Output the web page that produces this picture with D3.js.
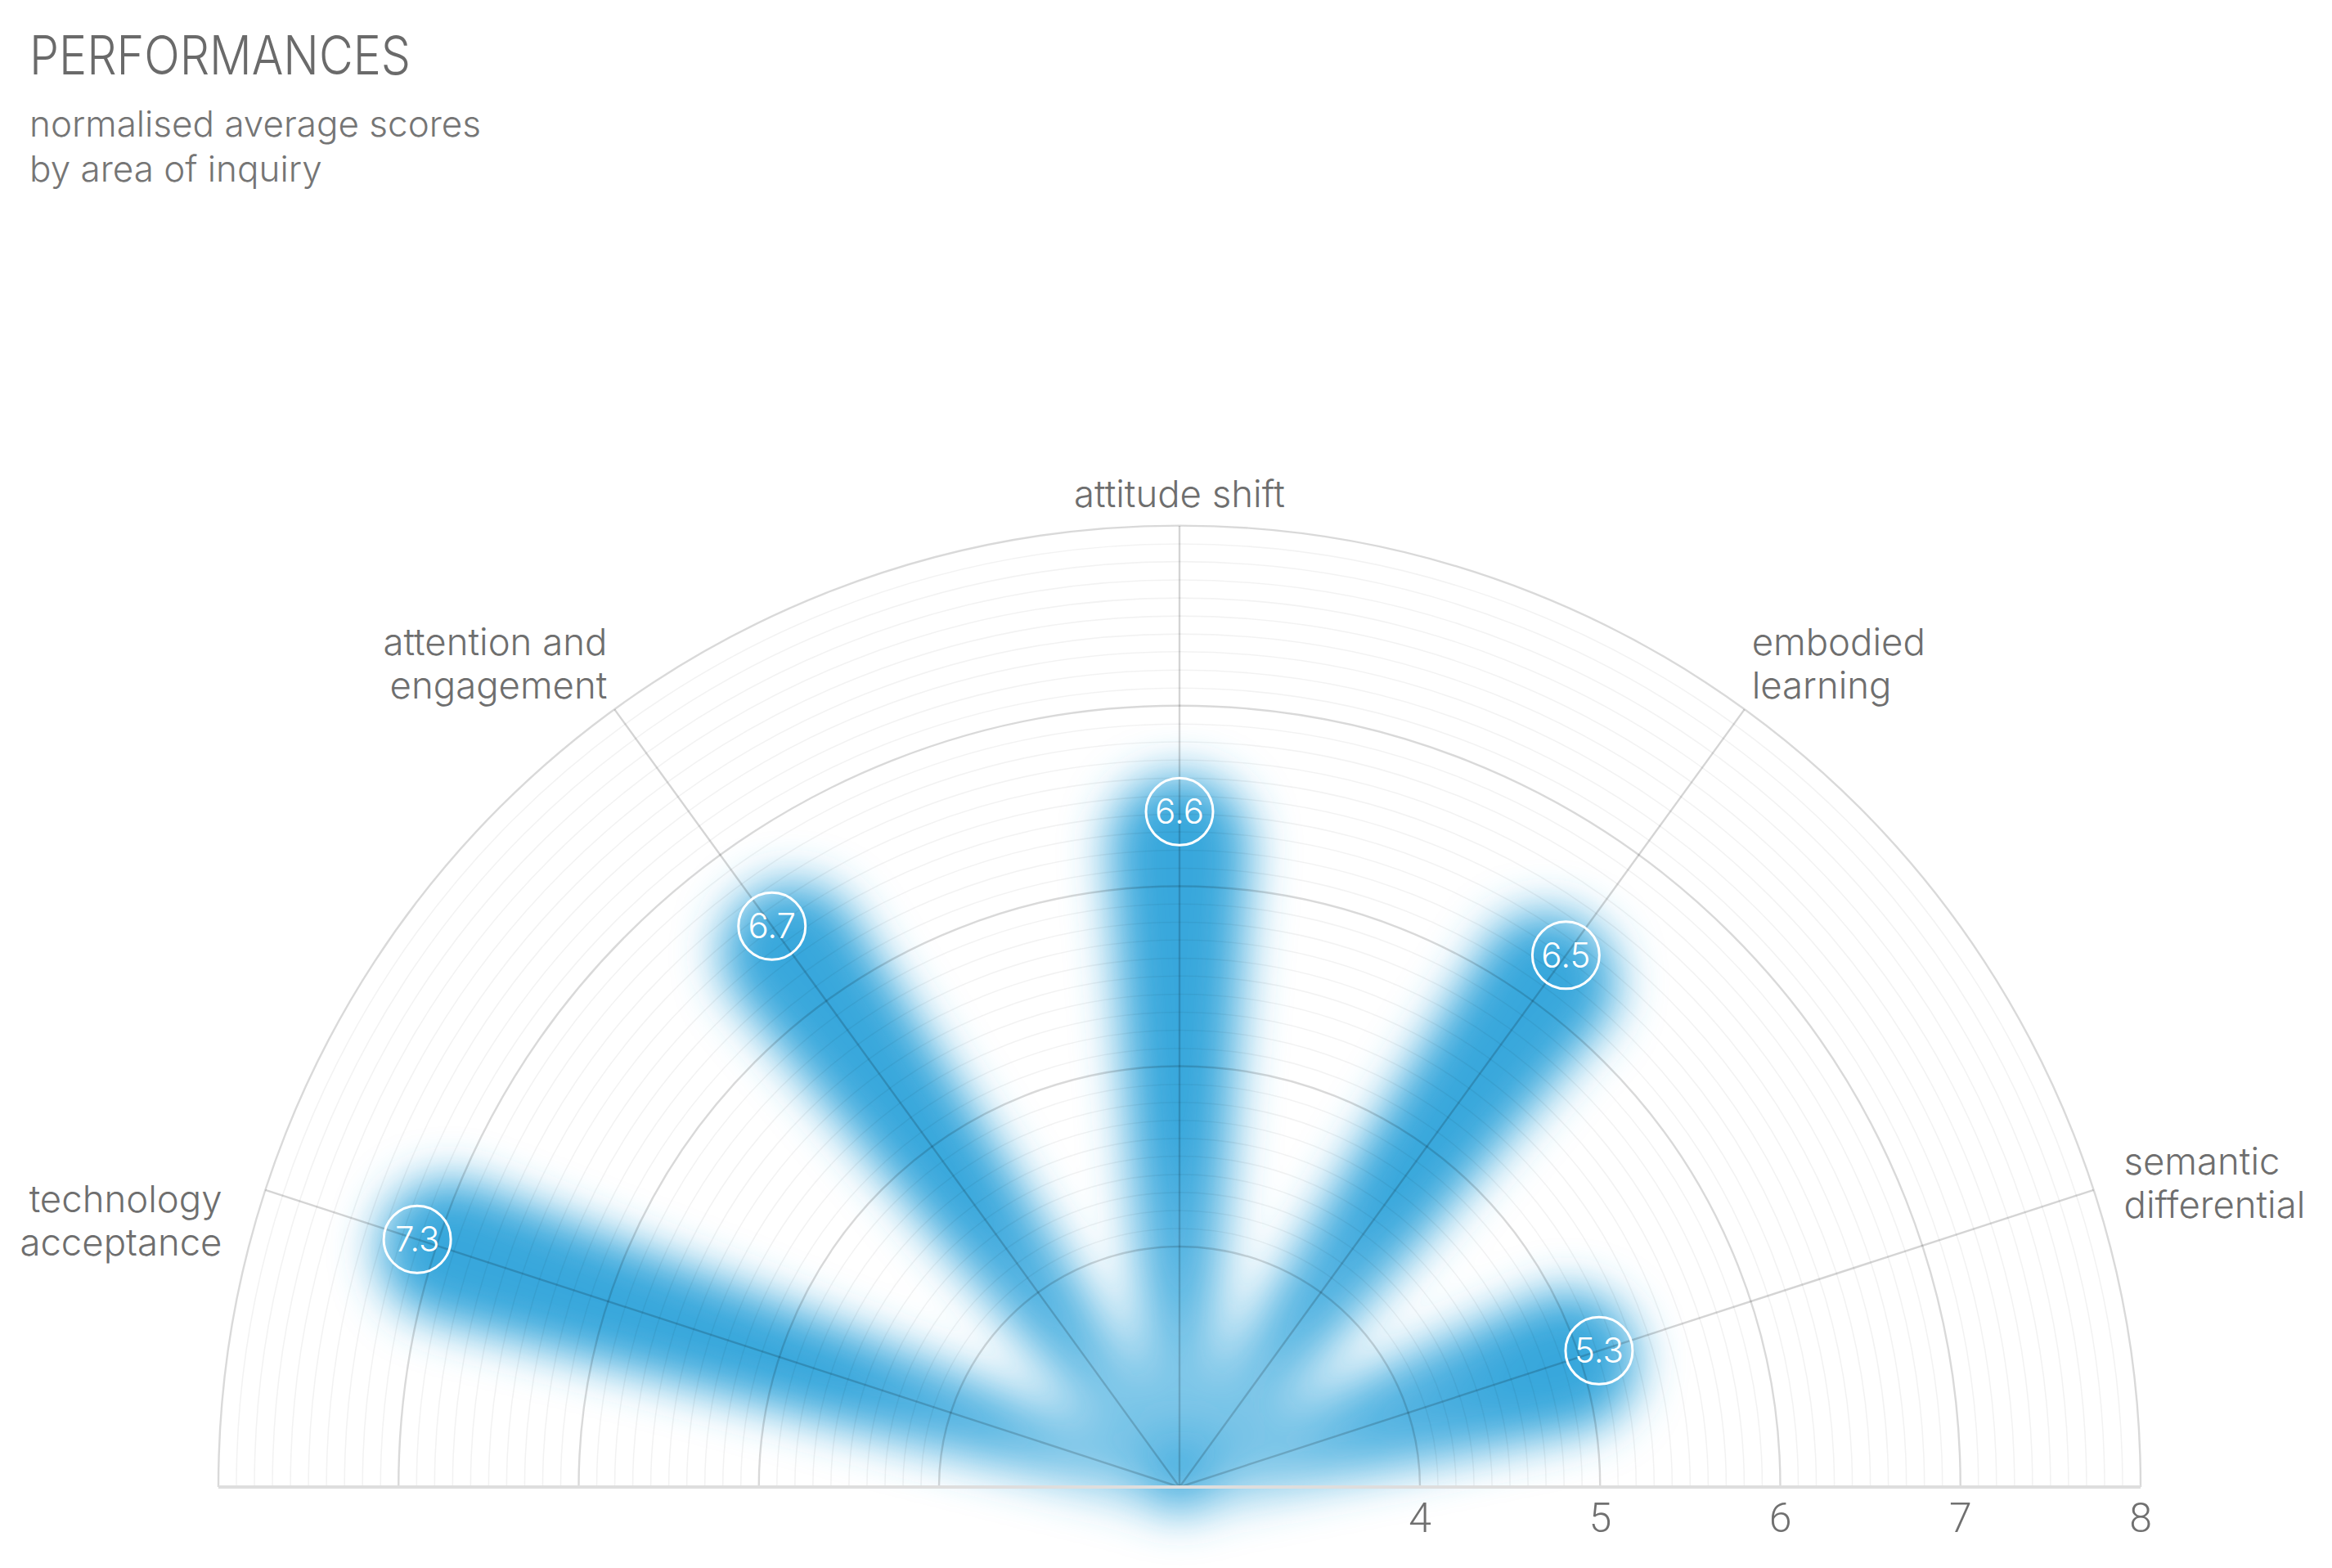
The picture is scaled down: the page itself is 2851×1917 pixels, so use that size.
<!DOCTYPE html>
<html><head><meta charset="utf-8">
<script src="https://cdn.jsdelivr.net/npm/d3@7"></script>
<style>html,body{margin:0;background:#fff;} svg{display:block}</style>
</head><body>
<svg id="chart" width="2851" height="1917"></svg>
<script>
// ---- data ----
const categories = ["technology acceptance","attention and engagement","attitude shift","embodied learning","semantic differential"];
const labelLines = [["technology","acceptance"],["attention and","engagement"],["attitude shift"],["embodied","learning"],["semantic","differential"]];
const scores = [7.3, 6.7, 6.6, 6.5, 5.3];
const tickValues = [4, 5, 6, 7, 8];
const minorTicks = d3.range(41, 80).filter(d => d % 10 !== 0).map(d => d / 10);
const titleText = "PERFORMANCES";
const subtitleLines = ["normalised average scores", "by area of inquiry"];

// ---- layout ----
const W = 2851, H = 1917, cx = 1442, cy = 1818, R = 1175;
const r = d3.scaleLinear().domain([2.665, 8]).range([0, R]);
const band = d3.scaleBand().domain(categories).range([0, Math.PI]);
const ang = c => Math.PI - (band(c) + band.bandwidth() / 2); // math angle
const font = "Inter, 'Noto Sans', sans-serif";

const svg = d3.select("#chart");
const defs = svg.append("defs");

const filt = defs.append("filter").attr("id", "blur")
  .attr("filterUnits", "userSpaceOnUse").attr("x", 0).attr("y", 0).attr("width", W).attr("height", H);
filt.append("feGaussianBlur").attr("stdDeviation", 28);

const grad = defs.append("radialGradient").attr("id", "fade")
  .attr("gradientUnits", "userSpaceOnUse").attr("cx", 0).attr("cy", 0).attr("r", 620);
grad.append("stop").attr("offset", 0).attr("stop-color", "#3ba9dd").attr("stop-opacity", 0.45);
grad.append("stop").attr("offset", 0.4).attr("stop-color", "#3ba9dd").attr("stop-opacity", 0.85);
grad.append("stop").attr("offset", 0.7).attr("stop-color", "#39a7dc").attr("stop-opacity", 1);

// ---- blobs ----
const capR = 86, w0 = 32;
const blobs = svg.append("g").attr("filter", "url(#blur)");
categories.forEach((c, i) => {
  const end = r(scores[i]) + 4;
  const cc = end - capR;
  const d = `M0,${-w0} L${cc},${-capR} A${capR},${capR} 0 0 1 ${cc},${capR} L0,${w0} A${w0},${w0} 0 0 1 0,${-w0} Z`;
  blobs.append("path")
    .attr("d", d)
    .attr("fill", "url(#fade)")
    .attr("transform", `translate(${cx},${cy}) rotate(${-ang(c) * 180 / Math.PI})`);
});

// ---- grid ----
const arcPath = rr => { const p = d3.path(); p.moveTo(cx - rr, cy); p.arc(cx, cy, rr, Math.PI, 2 * Math.PI); return p.toString(); };
const grid = svg.append("g").attr("fill", "none");
grid.selectAll(".minor").data(minorTicks).join("path")
  .attr("d", v => arcPath(r(v))).attr("stroke", "rgba(0,0,0,0.05)").attr("stroke-width", 1.6);
grid.selectAll(".major").data(tickValues).join("path")
  .attr("d", v => arcPath(r(v))).attr("stroke", "rgba(0,0,0,0.15)").attr("stroke-width", 2.4);
grid.selectAll(".spoke").data(categories).join("line")
  .attr("x1", cx).attr("y1", cy)
  .attr("x2", c => cx + R * Math.cos(ang(c))).attr("y2", c => cy - R * Math.sin(ang(c)))
  .attr("stroke", "rgba(0,0,0,0.17)").attr("stroke-width", 2.4);
grid.append("line").attr("x1", cx - R).attr("x2", cx + R).attr("y1", cy).attr("y2", cy)
  .attr("stroke", "#dedede").attr("stroke-width", 4);

// ---- ticks ----
svg.append("g").selectAll("text").data(tickValues).join("text")
  .attr("x", v => cx + r(v)).attr("y", 1873)
  .attr("text-anchor", "middle").attr("font-family", "Roboto, sans-serif").attr("font-weight", 300)
  .attr("font-size", 50).attr("fill", "#707070").text(v => v);

// ---- dots ----
const dotR = 41;
const dots = svg.append("g");
categories.forEach((c, i) => {
  const rr = r(scores[i]) - dotR, a = ang(c);
  const x = cx + rr * Math.cos(a), y = cy - rr * Math.sin(a);
  dots.append("circle").attr("cx", x).attr("cy", y).attr("r", dotR)
    .attr("fill", "none").attr("stroke", "#fff").attr("stroke-width", 3);
  dots.append("text").attr("x", x).attr("y", y).attr("dy", "0.36em")
    .attr("text-anchor", "middle").attr("font-family", font).attr("font-weight", 300)
    .attr("font-size", 42).attr("fill", "#fff").text(scores[i]);
});

// ---- category labels ----
const lh = 53;
const labels = svg.append("g").attr("font-family", font).attr("font-weight", 300)
  .attr("font-size", 45.5).attr("fill", "#6e6e6e");
categories.forEach((c, i) => {
  const a = ang(c), cs = Math.cos(a), sn = Math.sin(a);
  const px = cx + R * cs, py = cy - R * sn;
  const n = labelLines[i].length;
  let x, y0, anchor;
  if (Math.abs(cs) < 0.01) { anchor = "middle"; x = px; y0 = py - 23; }
  else if (sn > 0.6) { anchor = cs < 0 ? "end" : "start"; x = px + Math.sign(cs) * 9; y0 = py - 13 - lh * (n - 1); }
  else if (cs < 0) { anchor = "end"; x = px - 53; y0 = py + 27; }
  else { anchor = "start"; x = px + 37; y0 = py - 19; }
  const t = labels.append("text").attr("text-anchor", anchor);
  labelLines[i].forEach((ln, k) => t.append("tspan").attr("x", x).attr("y", y0 + k * lh).text(ln));
});

// ---- title ----
svg.append("text").attr("x", 36).attr("y", 91).attr("font-family", font).attr("font-weight", 300)
  .attr("font-size", 66).attr("fill", "#6a6a6a")
  .attr("textLength", 466).attr("lengthAdjust", "spacingAndGlyphs").text(titleText);
svg.append("g").selectAll("text").data(subtitleLines).join("text")
  .attr("x", 36).attr("y", (d, k) => 167 + k * 55)
  .attr("font-family", font).attr("font-weight", 300).attr("font-size", 44).attr("fill", "#757575").text(d => d);
</script>
</body></html>
